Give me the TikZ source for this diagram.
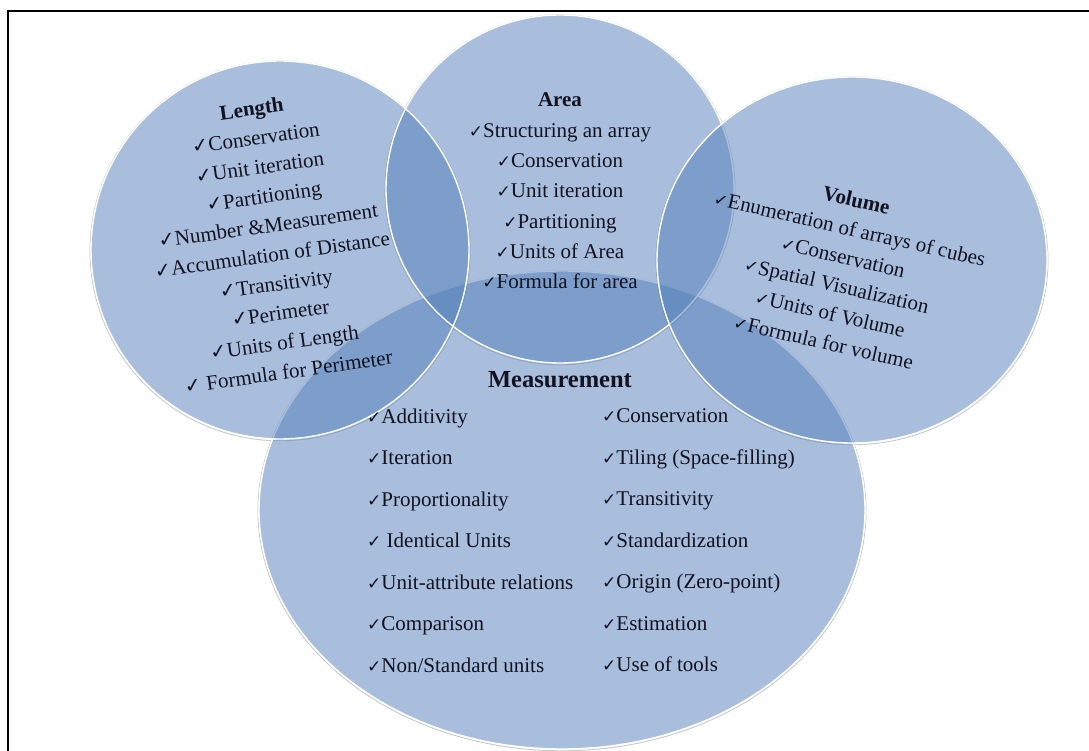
\documentclass[tikz,border=0pt]{standalone}
\usepackage{fontspec}
\setmainfont{Liberation Serif}
\newfontfamily\ckf{DejaVu Sans}
\definecolor{vfill}{RGB}{83,127,186}
\definecolor{txt}{RGB}{18,18,32}
\newcommand{\ckm}{{\ckf\fontsize{17}{17}\selectfont ✓}}
\newcommand{\ckL}{{\ckf\fontsize{20}{20}\selectfont ✓}}
\tikzset{
  venn/.style={fill=vfill, fill opacity=0.5, draw=none},
  rim/.style={draw=white, line width=1.4pt},
  shade rim/.style={draw=gray!60, line width=0.9pt, draw opacity=0.7},
  lbl/.style={align=center, inner sep=0pt, text=txt, font=\fontsize{21}{29.5}\selectfont},
  col/.style={align=left, anchor=west, inner sep=0pt, text=txt, font=\fontsize{21}{41.5}\selectfont},
}
\begin{document}
\begin{tikzpicture}[x=1pt,y=-1pt]
\useasboundingbox (0,0) rectangle (1089,751);
\fill[white] (0,0) rectangle (1089,751);
\begin{scope}
  \clip (0,0) rectangle (1089,751);
  \draw[line width=1.3pt] (8,11) rectangle (1100,770);
\end{scope}
% faint shadows
\draw[shade rim] (562,510.8) ellipse [x radius=304pt, y radius=240pt];
\draw[shade rim] (280,250.8) circle [radius=190pt];
\draw[shade rim] (560,189.8) circle [radius=175pt];
\draw[shade rim] (852,260.8) ellipse [x radius=196pt, y radius=184pt];
% Measurement
\fill[venn] (562,510) ellipse [x radius=303pt, y radius=239pt];
\draw[rim] (562,510) ellipse [x radius=303pt, y radius=239pt];
% Length and Area
\fill[venn] (280,250) circle [radius=189pt];
\fill[venn] (560,189) circle [radius=174pt];
\draw[rim] (280,250) circle [radius=189pt];
\draw[rim] (560,189) circle [radius=174pt];
% Volume
\fill[venn] (852,260) ellipse [x radius=195pt, y radius=183pt];
\draw[rim] (852,260) ellipse [x radius=195pt, y radius=183pt];

\node[lbl, rotate=8] (len) at (270,240) {\textbf{Length}\\
  \ckL Conservation\\
  \ckL Unit iteration\\
  \ckL Partitioning\\
  \ckL Number \&Measurement\\
  \ckL Accumulation of Distance\\
  \ckL Transitivity\\
  \ckL Perimeter\\
  \ckL Units of Length\\
  \ckL\ Formula for Perimeter};

\node[lbl, font=\fontsize{21}{30.3}\selectfont] (area) at (560,191) {\textbf{Area}\\
  \ckm Structuring an array\\
  \ckm Conservation\\
  \ckm Unit iteration\\
  \ckm Partitioning\\
  \ckm Units of Area\\
  \ckm Formula for area};

\node[lbl, rotate=-13, font=\fontsize{21}{29.1}\selectfont] (vol) at (840,271) {\textbf{Volume}\\
  \ckm Enumeration of arrays of cubes\\
  \ckm Conservation\\
  \ckm Spatial Visualization\\
  \ckm Units of Volume\\
  \ckm Formula for volume};

\node[inner sep=0pt, text=txt, font=\bfseries\fontsize{24.5}{24.5}\selectfont] (meas) at (560,380) {Measurement};
\node[col] (mleft) at (367,540.5) {\ckm Additivity\\
  \ckm Iteration\\
  \ckm Proportionality\\
  \ckm\ Identical Units\\
  \ckm Unit-attribute relations\\
  \ckm Comparison\\
  \ckm Non/Standard units};
\node[col] (mright) at (602,540.5) {\ckm Conservation\\
  \ckm Tiling (Space-filling)\\
  \ckm Transitivity\\
  \ckm Standardization\\
  \ckm Origin (Zero-point)\\
  \ckm Estimation\\
  \ckm Use of tools};
\end{tikzpicture}
\end{document}
